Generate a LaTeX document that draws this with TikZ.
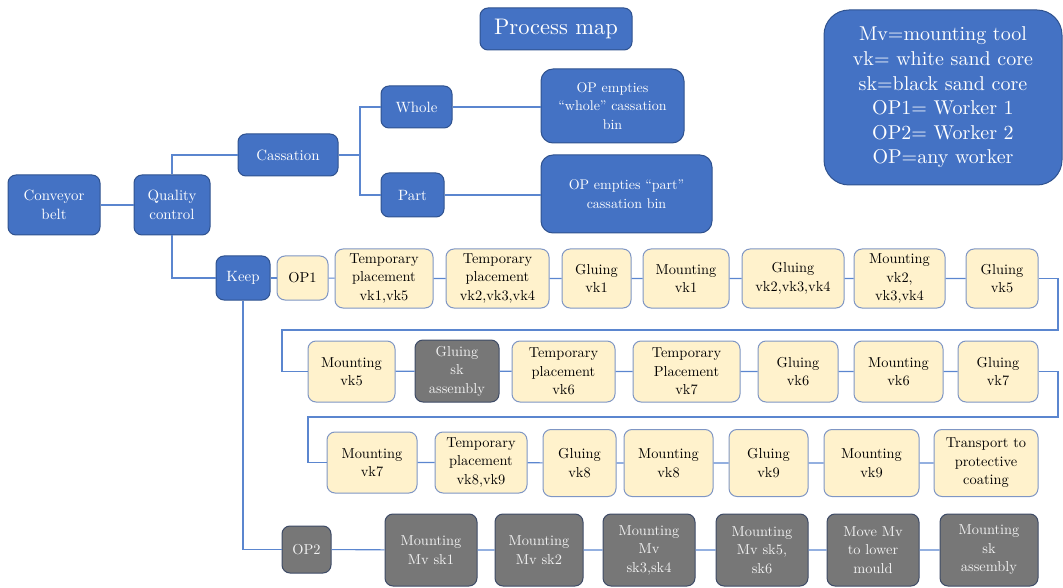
\documentclass[tikz,border=0pt]{standalone}
\usepackage{fontspec}
\setmainfont{lmroman10-regular.otf}[Ligatures=TeX]
\definecolor{bfill}{HTML}{4472C4}
\definecolor{bdraw}{HTML}{2F528F}
\definecolor{cfill}{HTML}{FFF2CC}
\definecolor{cdraw}{HTML}{7F96C4}
\definecolor{gfill}{HTML}{777777}
\definecolor{gdraw}{HTML}{3E4B66}
\definecolor{gtext}{HTML}{F2F2F2}
\definecolor{link}{HTML}{5B86CF}
\tikzset{
  box/.style={rounded corners=8pt, line width=1pt, align=center, inner sep=1pt,
    font=\fontsize{14.4}{18.5}\selectfont},
  bluebox/.style={box, fill=bfill, draw=bdraw, text=white, font=\fontsize{14.9}{18.5}\selectfont},
  creambox/.style={box, fill=cfill, draw=cdraw, text=black},
  graybox/.style={box, fill=gfill, draw=gdraw, text=gtext},
  sz/.style 2 args={minimum width=#1pt, minimum height=#2pt},
  conn/.style={draw=link, line width=1.1pt},
}
\begin{document}
\begin{tikzpicture}[x=1pt, y=-1pt]
\useasboundingbox (0,0) rectangle (1063,588);

% header and legend
\node[bluebox, sz={152}{42}, font=\fontsize{22.5}{26}\selectfont] (title) at (556,29) {Process map};
\node[bluebox, sz={238}{175}, rounded corners=25pt, font=\fontsize{20}{24.6}\selectfont] (legend) at (943,97.5)
  {Mv=mounting tool\\vk= white sand core\\sk=black sand core\\OP1= Worker 1\\OP2= Worker 2\\OP=any worker};

% decision branch
\node[bluebox, sz={92}{60}] (conv) at (54,205) {Conveyor\\belt};
\node[bluebox, sz={76}{60}] (qc) at (172,205) {Quality\\control};
\node[bluebox, sz={100}{42}] (cass) at (288,155) {Cassation};
\node[bluebox, sz={54}{44}] (keep) at (243,278) {Keep};
\node[bluebox, sz={71}{42}] (whole) at (416.5,107) {Whole};
\node[bluebox, sz={63}{44}] (part) at (412.5,195) {Part};
\node[bluebox, sz={143}{74}, rounded corners=12pt, font=\fontsize{14}{18.3}\selectfont] (opwhole) at (612.5,106)
  {OP empties\\``whole'' cassation\\bin};
\node[bluebox, sz={171}{78}, rounded corners=12pt, font=\fontsize{14}{18.3}\selectfont] (oppart) at (626.5,194)
  {OP empties ``part''\\cassation bin};

% worker 1, first row
\node[creambox, sz={51}{44}] (op1) at (302.5,278) {OP1};
\node[creambox, sz={98}{59}] (t15) at (384,278.5) {Temporary\\placement\\vk1,vk5};
\node[creambox, sz={103}{59}] (t234) at (497.5,278.5) {Temporary\\placement\\vk2,vk3,vk4};
\node[creambox, sz={69}{59}] (g1) at (596.5,278.5) {Gluing\\vk1};
\node[creambox, sz={86}{59}] (m1) at (686,278.5) {Mounting\\vk1};
\node[creambox, sz={102}{59}] (g234) at (793,278.5) {Gluing\\vk2,vk3,vk4};
\node[creambox, sz={91}{59}] (m234) at (899.5,278.5) {Mounting\\vk2,\\vk3,vk4};
\node[creambox, sz={72}{59}] (g5) at (1002,278.5) {Gluing\\vk5};

% worker 1, second row
\node[creambox, sz={87}{61}] (m5) at (351.5,371.5) {Mounting\\vk5};
\node[graybox, sz={84}{62}] (gsk) at (457,371) {Gluing\\sk\\assembly};
\node[creambox, sz={103}{61}] (t6) at (563.5,371.5) {Temporary\\placement\\vk6};
\node[creambox, sz={107}{61}] (t7) at (686.5,371.5) {Temporary\\Placement\\vk7};
\node[creambox, sz={80}{61}] (g6) at (798,371.5) {Gluing\\vk6};
\node[creambox, sz={89}{61}] (m6) at (898.5,371.5) {Mounting\\vk6};
\node[creambox, sz={80}{61}] (g7) at (998,371.5) {Gluing\\vk7};

% worker 1, third row
\node[creambox, sz={90}{61}] (m7) at (372,462.5) {Mounting\\vk7};
\node[creambox, sz={92}{61}] (t89) at (481,462.5) {Temporary\\placement\\vk8,vk9};
\node[creambox, sz={73}{67}] (g8) at (579.5,463) {Gluing\\vk8};
\node[creambox, sz={89}{67}] (m8) at (668.5,463) {Mounting\\vk8};
\node[creambox, sz={79}{67}] (g9) at (768.5,463) {Gluing\\vk9};
\node[creambox, sz={95}{67}] (m9) at (871.5,463) {Mounting\\vk9};
\node[creambox, sz={104}{67}] (trans) at (986,463) {Transport to\\protective\\coating};

% worker 2
\node[graybox, sz={49}{47}] (op2) at (306.5,549.5) {OP2};
\node[graybox, sz={92}{72}] (mv1) at (431,550) {Mounting\\Mv sk1};
\node[graybox, sz={88}{72}] (mv2) at (539,550) {Mounting\\Mv sk2};
\node[graybox, sz={92}{72}] (mv34) at (649,550) {Mounting\\Mv\\sk3,sk4};
\node[graybox, sz={92}{72}] (mv56) at (762,550) {Mounting\\Mv sk5,\\sk6};
\node[graybox, sz={92}{72}] (move) at (873,550) {Move Mv\\to lower\\mould};
\node[graybox, sz={98}{72}] (msk) at (989,550) {Mounting\\sk\\assembly};

% bend points of the connectors
\coordinate (split) at (360,155);
\coordinate (r1a) at (1058,330);
\coordinate (r1b) at (282,330);
\coordinate (r2a) at (1058,417);
\coordinate (r2b) at (308,417);

% connectors
\draw[conn] (conv.east) -- (qc.west);
\draw[conn] (qc.north) |- (cass.west);
\draw[conn] (qc.south) |- (keep.west);
\draw[conn] (cass.east) -- (split);
\draw[conn] (whole.west) -| (split) |- (part.west);
\draw[conn] (whole.east) -- (whole.east -| opwhole.west);
\draw[conn] (part.east) -- (part.east -| oppart.west);
\draw[conn] (keep.east) -- (op1.west);
\draw[conn] (op1) -- (t15) -- (t234) -- (g1) -- (m1) -- (g234) -- (m234) -- (g5);
\draw[conn] (g5.east) -| (r1a) -- (r1b) |- (m5.west);
\draw[conn] (m5) -- (gsk) -- (t6) -- (t7) -- (g6) -- (m6) -- (g7);
\draw[conn] (g7.east) -| (r2a) -- (r2b) |- (m7.west);
\draw[conn] (m7) -- (t89) -- (g8) -- (m8) -- (g9) -- (m9) -- (trans);
\draw[conn] (keep.south) |- (op2.west);
\draw[conn] (op2) -- (mv1) -- (mv2) -- (mv34) -- (mv56) -- (move) -- (msk);
\end{tikzpicture}
\end{document}
